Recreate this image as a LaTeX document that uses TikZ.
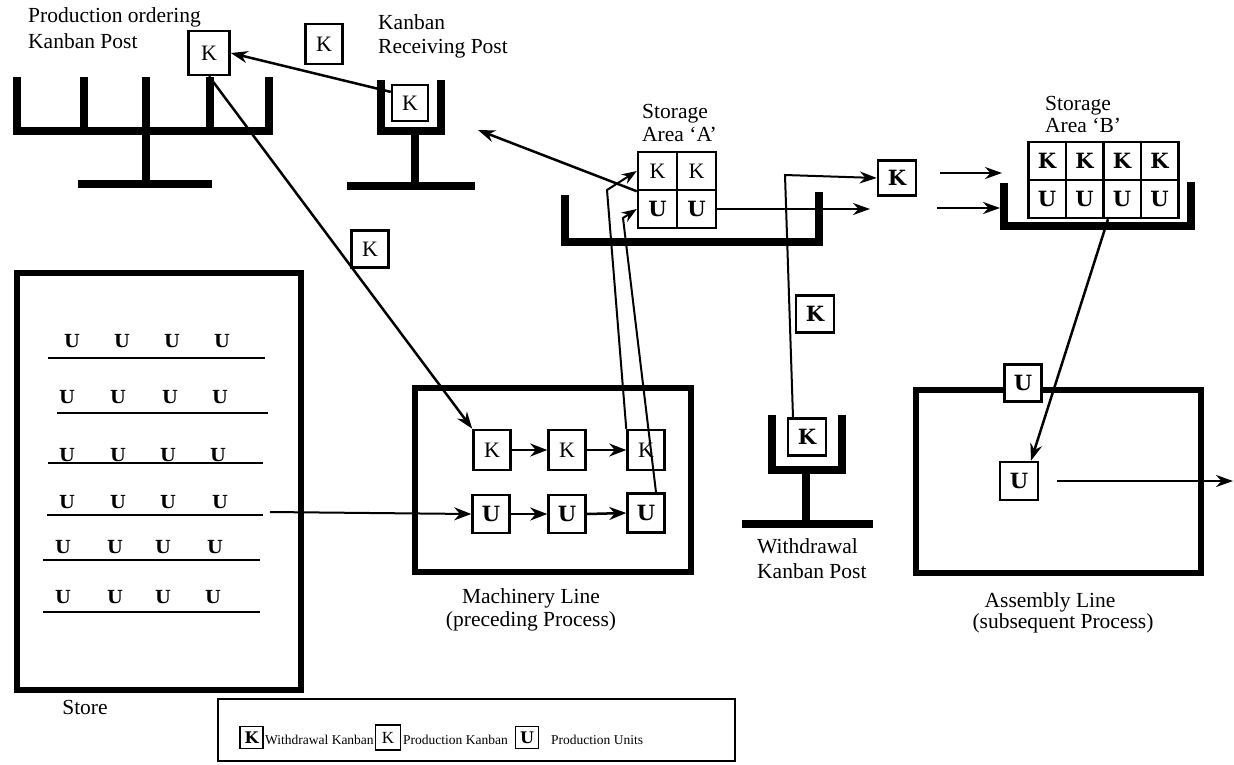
\documentclass[tikz,border=0pt]{standalone}
\usepackage{fontspec}
\setmainfont{Liberation Serif}
\newfontfamily\heavy{DejaVu Serif}
\usetikzlibrary{arrows.meta,calc}
\begin{document}
\begin{tikzpicture}[x=1pt,y=-1pt,
  lbl/.style={font=\fontsize{21.5}{25}\selectfont, inner sep=0pt},
  leglbl/.style={font=\fontsize{13.5}{16}\selectfont, inner sep=0pt},
  postbar/.style={line width=8pt, line join=miter},
  box/.style={draw, line width=2.5pt, minimum width=38pt, minimum height=38pt, inner sep=0pt, fill=white},
  pk/.style={box, font=\fontsize{22}{22}\selectfont},
  hv/.style={box, font=\heavy\bfseries\fontsize{21}{21}\selectfont},
  sbox/.style={box, line width=1.5pt, minimum width=23pt, minimum height=22pt},
  su/.style={font=\heavy\bfseries\fontsize{18}{18}\selectfont, inner sep=0pt},
  frame/.style={draw, line width=6pt, inner sep=0pt},
  arr/.style={line width=2.5pt, -{Stealth[length=17pt,width=12pt]}},
  sarr/.style={line width=2.5pt, -{Stealth[length=17pt,width=13pt]}},
  conn/.style={line width=2pt},
  rowline/.style={line width=2.5pt}
]
\useasboundingbox (0,0) rectangle (1234,764);

% ---------- Production ordering Kanban Post ----------
\draw[postbar] (17,77) -- (17,131) -- (269,131) -- (269,77);
\foreach \x in {84,146,210} \draw[postbar] (\x,77) -- (\x,131);
\draw[postbar] (146,131) -- (146,184);
\draw[postbar] (78,184) -- (212,184);
\node[pk, minimum width=41pt, minimum height=44pt] (pK) at (209,53) {K};
\node[lbl, anchor=base west] (tPO1) at (28,22) {Production ordering};
\node[lbl, anchor=base west] (tPO2) at (28,48) {Kanban Post};

% ---------- Kanban Receiving Post ----------
\draw[postbar] (381,80) -- (381,131) -- (441,131) -- (441,80);
\draw[postbar] (415,131) -- (415,186);
\draw[postbar] (347,186) -- (475,186);
\node[pk, minimum width=36pt, minimum height=36pt] (rK) at (410,103) {K};
\node[pk, minimum width=37pt, minimum height=40pt] (fK1) at (324,44) {K};
\node[lbl, anchor=base west] (tKR1) at (378,29) {Kanban};
\node[lbl, anchor=base west] (tKR2) at (378,53) {Receiving Post};
\draw[arr] (rK.150) -- (pK.east);

% ---------- Storage Area A ----------
\draw[postbar] (565,195) -- (565,242) -- (819,242) -- (819,192);
\node[pk, minimum width=39pt, minimum height=38pt] (aK1) at (657.5,171) {K};
\node[pk, minimum width=39pt, minimum height=38pt] (aK2) at (696.5,171) {K};
\node[hv, minimum width=39pt, minimum height=38pt] (aU1) at (657.5,209) {U};
\node[hv, minimum width=39pt, minimum height=38pt] (aU2) at (696.5,209) {U};
\node[lbl, anchor=base west] (tSA1) at (642,118) {Storage};
\node[lbl, anchor=base west] (tSA2) at (642,141) {Area ‘A’};
\coordinate (rP) at (478,130);
\draw[arr] (aK1.south west) -- (rP);
\coordinate (aOut) at (870,209);
\draw[arr] (aU2.east) -- (aOut);

% ---------- Withdrawal Kanban Post ----------
\draw[postbar] (772,415) -- (772,470) -- (842,470) -- (842,415);
\draw[postbar] (806,470) -- (806,524);
\draw[postbar] (742,524) -- (873,524);
\node[hv, minimum width=38pt, minimum height=37pt] (wK) at (807,437) {K};
\node[lbl, anchor=base west] (tWK1) at (757,553) {Withdrawal};
\node[lbl, anchor=base west] (tWK2) at (757,578) {Kanban Post};
\node[hv, minimum width=38pt, minimum height=37pt] (fK2) at (815,314) {K};
\node[hv, minimum width=38pt, minimum height=35pt] (bK) at (897,178) {K};
\coordinate (wc) at (785,175);
\draw[conn, -{Stealth[length=17pt,width=12pt]}] ([xshift=-14pt]wK.north) -- (wc) -- (bK.west);

% ---------- Storage Area B ----------
\coordinate (b1s) at (940,173);
\coordinate (b1e) at (1002,173);
\coordinate (b2s) at (937,208);
\coordinate (b2e) at (1000,208);
\draw[arr] (b1s) -- (b1e);
\draw[arr] (b2s) -- (b2e);
\draw[postbar] (1004,183) -- (1004,226) -- (1191,226) -- (1191,182);
\foreach \i/\x in {1/1047,2/1084.5,3/1122,4/1159.5} {
  \node[hv, minimum width=37.5pt, minimum height=38pt] (bK\i) at (\x,161) {K};
  \node[hv, minimum width=37.5pt, minimum height=38pt] (bU\i) at (\x,199) {U};
}
\node[lbl, anchor=base west] (tSB1) at (1045,110) {Storage};
\node[lbl, anchor=base west] (tSB2) at (1045,132) {Area ‘B’};

% ---------- Assembly Line ----------
\node[frame, minimum width=285pt, minimum height=183pt] (asm) at (1058.5,481.5) {};
\node[hv, minimum width=37pt, minimum height=37pt] (asU1) at (1023,383) {U};
\node[hv, minimum width=38pt, minimum height=38pt] (asU2) at (1019,481) {U};
\draw[arr] ([xshift=6pt]bU3.south west) -- ([xshift=12pt]asU2.north);
\coordinate (asOut) at (1233,481);
\draw[arr] ([xshift=18pt]asU2.east) -- (asOut);
\node[lbl, anchor=base] (tAL1) at (1050,607) {Assembly Line};
\node[lbl, anchor=base] (tAL2) at (1063,628) {(subsequent Process)};

% ---------- Machinery Line ----------
\node[frame, minimum width=276pt, minimum height=184pt] (mach) at (553,480) {};
\node[pk, minimum width=37pt, minimum height=40pt] (mK1) at (492,450) {K};
\node[pk, minimum width=37pt, minimum height=40pt] (mK2) at (567,450) {K};
\node[pk, minimum width=37pt, minimum height=40pt] (mK3) at (646,450) {K};
\node[hv, minimum width=37pt, minimum height=38pt] (mU1) at (491,514) {U};
\node[hv, minimum width=37pt, minimum height=38pt] (mU2) at (567,514) {U};
\node[hv, minimum width=37pt, minimum height=39pt] (mU3) at (646,513) {U};
\draw[sarr] (mK1.east) -- (mK2.west);
\draw[sarr] (mK2.east) -- (mK3.west);
\draw[sarr] (mU1.east) -- (mU2.west);
\draw[sarr] (mU2.east) -- (mU3.west);
\node[lbl, anchor=base] (tML1) at (531,603) {Machinery Line};
\node[lbl, anchor=base] (tML2) at (531,626) {(preceding Process)};

% production kanban to machinery line
\draw[arr] (pK.south) -- (mK1.north west);
\node[pk, minimum width=37pt, minimum height=37pt] (fK3) at (370,249) {K};

% machinery line back to storage A
\coordinate (l1) at (607,190);
\coordinate (l2) at (623,218);
\draw[conn, -{Stealth[length=15pt,width=11pt]}] (mK3.north west) -- (l1) -- (aK1.west);
\draw[conn, -{Stealth[length=15pt,width=11pt]}] ([xshift=10pt]mU3.north) -- (l2) -- (aU1.west);

% ---------- Store ----------
\node[frame, minimum width=284pt, minimum height=417pt] (store) at (159,481.5) {};
\node[lbl, anchor=base] (tStore) at (85,714) {Store};
\foreach \r/\xa/\xb/\yl/\yu/\ua/\ub/\uc/\ud in {
   1/48/265/358/341/72/122/172/222,
   2/57/268/413/397/67/118/170/220,
   3/48/263/463/455/67/118/168/218,
   4/47/263/515/502/67/118/168/220,
   5/43/260/560/547/63/115/163/215,
   6/43/260/612/597/63/115/163/213} {
  \node[su] (su\r a) at (\ua,\yu) {U};
  \node[su] (su\r b) at (\ub,\yu) {U};
  \node[su] (su\r c) at (\uc,\yu) {U};
  \node[su] (su\r d) at (\ud,\yu) {U};
  \coordinate (rl\r a) at (\xa,\yl);
  \coordinate (rl\r b) at (\xb,\yl);
  \draw[rowline] (rl\r a) -- (rl\r b);
}
\coordinate (stOut) at (270,512);
\draw[sarr, line width=2pt] (stOut) -- (mU1.west);

% ---------- Legend ----------
\node[draw, line width=1.5pt, minimum width=517pt, minimum height=62pt, inner sep=0pt] (leg) at (476.5,730) {};
\node[sbox, font=\heavy\bfseries\fontsize{16}{16}\selectfont] (lgK1) at (251.5,737.5) {K};
\node[leglbl, anchor=base west] (lgT1) at (265,744) {Withdrawal Kanban};
\node[sbox, minimum width=25pt, minimum height=25pt, font=\fontsize{17}{17}\selectfont] (lgK2) at (388,737.5) {K};
\node[leglbl, anchor=base west] (lgT2) at (403,744) {Production Kanban};
\node[sbox, font=\heavy\bfseries\fontsize{16}{16}\selectfont] (lgU) at (527,737.5) {U};
\node[leglbl, anchor=base west] (lgT3) at (551,744) {Production Units};
\end{tikzpicture}
\end{document}
